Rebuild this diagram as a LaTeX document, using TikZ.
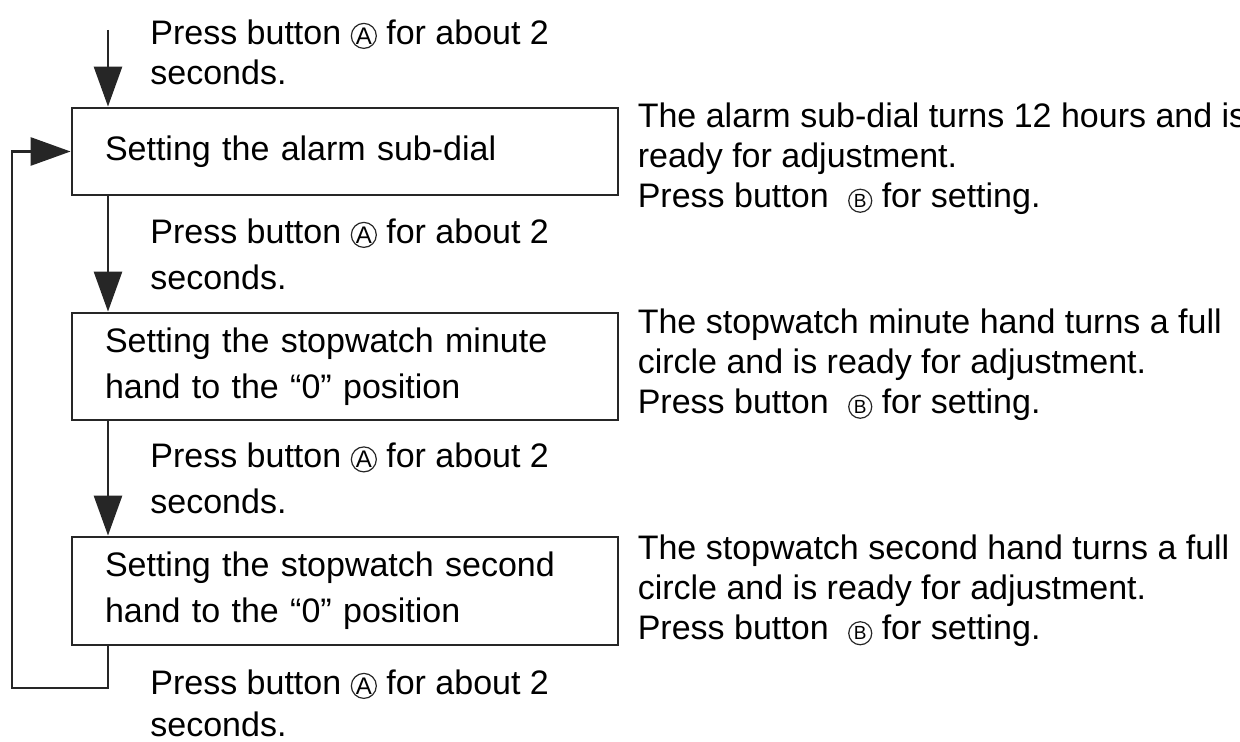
\documentclass[tikz,border=0pt]{standalone}
\usepackage{fontspec}
\setmainfont{Liberation Sans}
\usetikzlibrary{positioning, arrows.meta, calc}
\tikzset{
  stepbox/.style={rectangle, draw=black!85, line width=1.4pt, text width=240pt,
    inner xsep=16.5pt, inner ysep=0pt, align=left, font=\fontsize{17}{23}\selectfont},
  press/.style={inner sep=0pt, align=left, font=\fontsize{17}{23}\selectfont},
  result/.style={inner sep=0pt, align=left, font=\fontsize{17}{20}\selectfont},
  flow/.style={draw=black!85, line width=1.4pt, ->},
  btnmark/.style={circle, draw=black!85, line width=0.6pt, inner sep=0pt}
}
% circled button letters
\newcommand{\btnA}{\tikz[baseline=(b.base)]\node[btnmark, minimum size=12.5pt, font=\fontsize{12}{12}\selectfont] (b) {A};}
\newcommand{\btnB}{\hspace{5pt}\tikz[baseline=(b.base)]\node[btnmark, minimum size=11.5pt, font=\fontsize{9.5}{9.5}\selectfont] (b) {B};}

\begin{document}
\begin{tikzpicture}[x=0.5pt, y=-0.5pt,
    >={Triangle[length=20pt, width=14pt]}
  ]
    \useasboundingbox (0,0) rectangle (1240,742);
    % the three setting steps
    \node[stepbox, minimum height=43.5pt] (alarm) at (345,151.5) {Setting the alarm sub-dial};
    \node[stepbox, minimum height=53.5pt] (minute) at (345,366.5) {Setting the stopwatch minute\\hand to the “0” position};
    \node[stepbox, minimum height=54pt] (second) at (345,591) {Setting the stopwatch second\\hand to the “0” position};

    % what happens in each step
    \node[result, right=9pt of alarm, yshift=-3.5pt] (alarmres) {The alarm sub-dial turns 12 hours and is\\ready for adjustment.\\Press button \btnB\ for setting.};
    \node[result, right=9pt of minute, yshift=1pt] (minuteres) {The stopwatch minute hand turns a full\\circle and is ready for adjustment.\\Press button \btnB\ for setting.};
    \node[result, right=9pt of second] (secondres) {The stopwatch second hand turns a full\\circle and is ready for adjustment.\\Press button \btnB\ for setting.};

    % button presses
    \coordinate (start) at (108,30);
    \node[press, anchor=west, font=\fontsize{17}{20}\selectfont] (press1) at (150,52) {Press button \btnA\ for about 2\\seconds.};
    \draw[flow] (start) -- (start |- alarm.north);
    \draw[flow] (start |- alarm.south) -- node[press, right=21pt] (press2) {Press button \btnA\ for about 2\\seconds.} (start |- minute.north);
    \draw[flow] (start |- minute.south) -- node[press, right=21pt] (press3) {Press button \btnA\ for about 2\\seconds.} (start |- second.north);

    % back to the start
    \coordinate (loopturn) at (12,688);
    \draw[flow] (start |- second.south) |- (loopturn) |- (alarm.west);
    \node[press, anchor=west, font=\fontsize{17}{21}\selectfont] (press4) at (150,703) {Press button \btnA\ for about 2\\seconds.};
\end{tikzpicture}
\end{document}
